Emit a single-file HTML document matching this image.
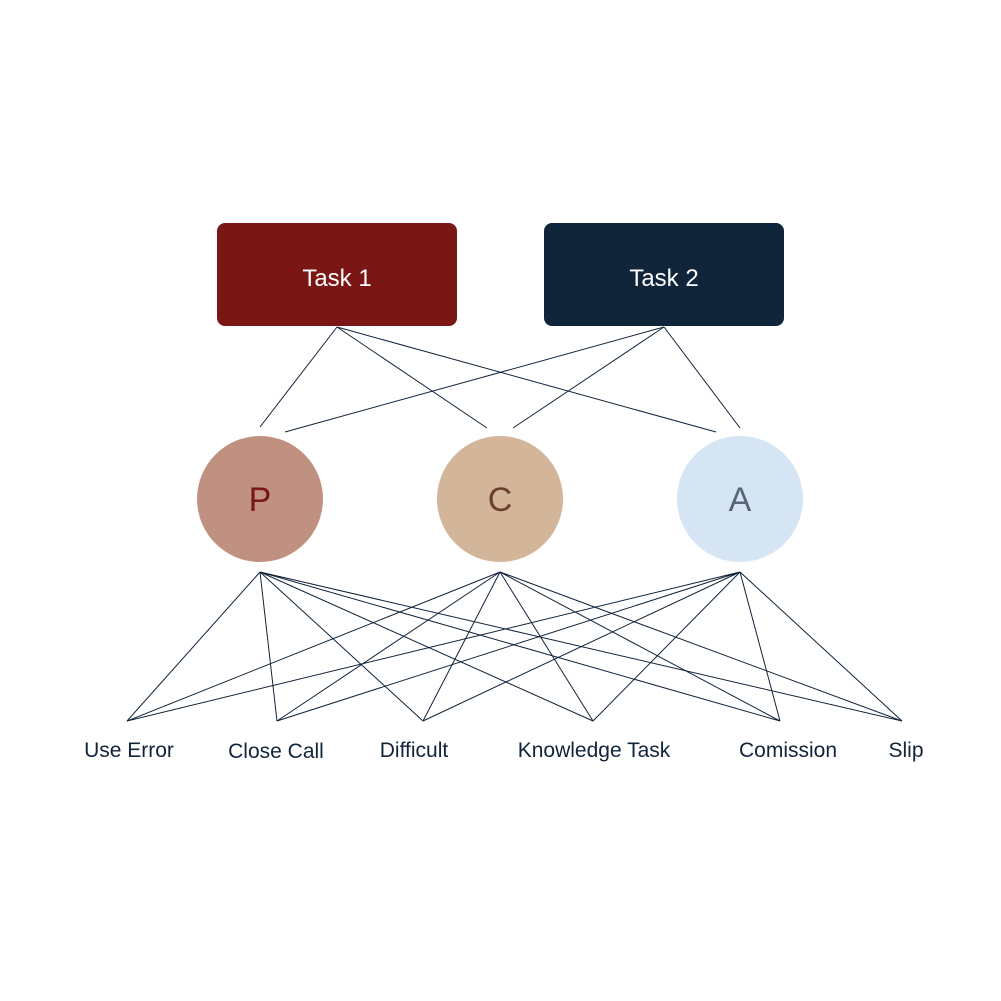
<!DOCTYPE html>
<html><head><meta charset="utf-8"><style>html,body{margin:0;padding:0;background:#fff}svg{display:block}</style></head>
<body>
<svg width="1001" height="1001" viewBox="0 0 1001 1001" xmlns="http://www.w3.org/2000/svg" font-family="Liberation Sans, sans-serif">
<rect x="0" y="0" width="1001" height="1001" fill="#fff"/>
<rect x="217" y="223" width="240" height="103" rx="8" fill="#7a1715"/>
<rect x="544" y="223" width="240" height="103" rx="8" fill="#10243a"/>
<text x="337" y="286" font-size="24" fill="#fff" text-anchor="middle">Task 1</text>
<text x="664" y="286" font-size="24" fill="#fff" text-anchor="middle">Task 2</text>
<g stroke="#10243a" stroke-width="1" fill="none">
<line x1="337" y1="327" x2="260" y2="427"/>
<line x1="337" y1="327" x2="487" y2="428"/>
<line x1="337" y1="327" x2="716" y2="432"/>
<line x1="664" y1="327" x2="285" y2="432"/>
<line x1="664" y1="327" x2="513" y2="428"/>
<line x1="664" y1="327" x2="740" y2="428"/>
</g>
<g stroke="#10243a" stroke-width="1" fill="none">
<path d="M260 572L127 721M260 572L277 721M260 572L423 721M260 572L593 721M260 572L780 721M260 572L902 721"/>
<path d="M500 572L127 721M500 572L277 721M500 572L423 721M500 572L593 721M500 572L780 721M500 572L902 721"/>
<path d="M740 572L127 721M740 572L277 721M740 572L423 721M740 572L593 721M740 572L780 721M740 572L902 721"/>
</g>
<circle cx="260" cy="499" r="63" fill="#c09080"/>
<circle cx="500" cy="499" r="63" fill="#d3b59a"/>
<circle cx="740" cy="499" r="63" fill="#d6e5f3"/>
<text x="260" y="511" font-size="34" fill="#7a1715" text-anchor="middle">P</text>
<text x="500" y="511" font-size="34" fill="#6b4030" text-anchor="middle">C</text>
<text x="740" y="511" font-size="34" fill="#56657a" text-anchor="middle">A</text>
<g font-size="21" fill="#10243a" text-anchor="middle">
<text x="129" y="757">Use Error</text>
<text x="276" y="758">Close Call</text>
<text x="414" y="757">Difficult</text>
<text x="594" y="757">Knowledge Task</text>
<text x="788" y="757">Comission</text>
<text x="906" y="757">Slip</text>
</g>
</svg>
</body></html>
